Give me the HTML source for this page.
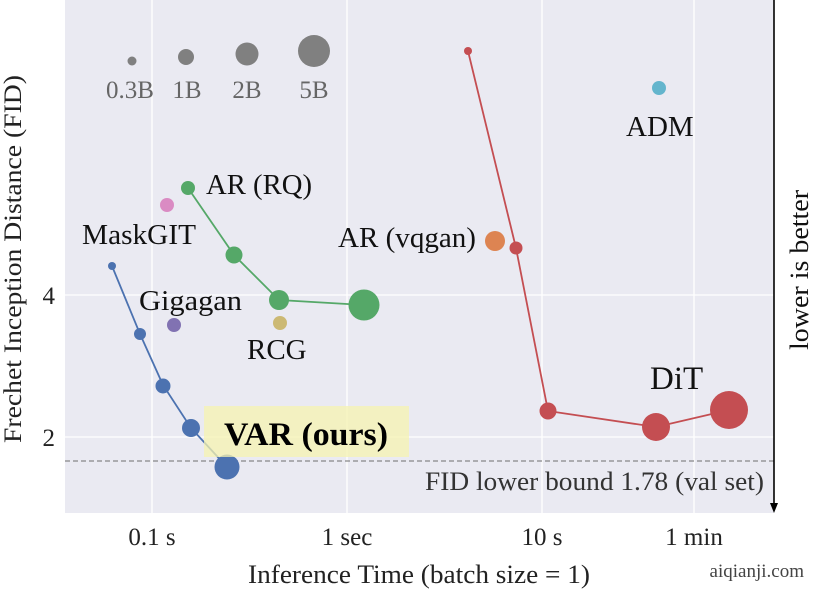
<!DOCTYPE html>
<html><head><meta charset="utf-8"><style>
html,body{margin:0;padding:0;background:#fff;}
svg{display:block;}
text{font-family:"Liberation Serif",serif;}
</style></head><body>
<svg width="814" height="590" viewBox="0 0 814 590" xmlns="http://www.w3.org/2000/svg">
<rect x="65" y="0" width="709" height="513" fill="#eaeaf2"/>
<g stroke="#fff" stroke-width="1.3">
<line x1="152" y1="0" x2="152" y2="513"/>
<line x1="347" y1="0" x2="347" y2="513"/>
<line x1="542" y1="0" x2="542" y2="513"/>
<line x1="694" y1="0" x2="694" y2="513"/>
<line x1="65" y1="295" x2="774" y2="295"/>
<line x1="65" y1="437" x2="774" y2="437"/>
</g>
<line x1="65" y1="461" x2="774" y2="461" stroke="#888" stroke-width="1.3" stroke-dasharray="5,3"/>
<g fill="#808080">
<circle cx="132" cy="61" r="4.5"/><circle cx="186" cy="57" r="8"/><circle cx="247" cy="54" r="11.5"/><circle cx="314" cy="51" r="16"/>
</g>
<g font-size="25" fill="#666" text-anchor="middle">
<text x="130" y="98">0.3B</text><text x="187" y="98">1B</text><text x="247" y="98">2B</text><text x="314" y="98">5B</text>
</g>
<polyline points="468,51 516,248 548,411 656,427 729,410" fill="none" stroke="#c44e52" stroke-width="1.8"/>
<g fill="#c44e52">
<circle cx="468" cy="51" r="4"/><circle cx="516" cy="248" r="6.5"/><circle cx="548" cy="411" r="8.5"/><circle cx="656" cy="427" r="14"/><circle cx="729" cy="410" r="19"/>
</g>
<circle cx="659" cy="88" r="7" fill="#64b5cd"/>
<circle cx="495" cy="241" r="10" fill="#dd8452"/>
<polyline points="188,188 234,255 279,300 364,305" fill="none" stroke="#55a868" stroke-width="1.8"/>
<g fill="#55a868">
<circle cx="188" cy="188" r="7"/><circle cx="234" cy="255" r="8.5"/><circle cx="279" cy="300" r="10"/><circle cx="364" cy="305" r="15.5"/>
</g>
<circle cx="167" cy="205" r="7" fill="#da8bc3"/>
<circle cx="174" cy="325" r="7" fill="#8172b2"/>
<circle cx="280" cy="323" r="7" fill="#ccb974"/>
<polyline points="112,266 140,334 163,385 191,428 227,467" fill="none" stroke="#4c72b0" stroke-width="1.8"/>
<g fill="#4c72b0">
<circle cx="112" cy="266" r="4"/><circle cx="140" cy="334" r="6"/><circle cx="163" cy="386" r="7.5"/><circle cx="191" cy="428" r="9"/><circle cx="227" cy="467" r="12.5"/>
</g>
<rect x="204" y="406" width="205" height="51" fill="#f5f3b0" opacity="0.75"/>
<text x="306" y="445" font-size="33" font-weight="bold" text-anchor="middle" fill="#000" textLength="164" lengthAdjust="spacingAndGlyphs">VAR (ours)</text>
<g font-size="29" fill="#111">
<text x="206" y="194" textLength="106" lengthAdjust="spacingAndGlyphs">AR (RQ)</text>
<text x="82" y="244" textLength="114" lengthAdjust="spacingAndGlyphs">MaskGIT</text>
<text x="139" y="310" textLength="103" lengthAdjust="spacingAndGlyphs">Gigagan</text>
<text x="247" y="359">RCG</text>
<text x="338" y="247" textLength="138" lengthAdjust="spacingAndGlyphs">AR (vqgan)</text>
<text x="626" y="136">ADM</text>
<text x="650" y="389" font-size="33">DiT</text>
</g>
<text x="425" y="490" font-size="26" fill="#333" textLength="339" lengthAdjust="spacingAndGlyphs">FID lower bound 1.78 (val set)</text>
<line x1="774" y1="0" x2="774" y2="506" stroke="#000" stroke-width="1.6"/>
<polygon points="770,503 778,503 774,513" fill="#000"/>
<text transform="translate(808,270) rotate(-90)" font-size="26" text-anchor="middle" fill="#111" textLength="160" lengthAdjust="spacingAndGlyphs">lower is better</text>
<g font-size="25" fill="#222" text-anchor="middle">
<text x="152" y="545">0.1 s</text><text x="347" y="545">1 sec</text><text x="542" y="545">10 s</text><text x="694" y="545">1 min</text>
</g>
<g font-size="25" fill="#222" text-anchor="end">
<text x="55" y="304">4</text><text x="55" y="446">2</text>
</g>
<text x="419" y="583" font-size="26" fill="#222" text-anchor="middle" textLength="342" lengthAdjust="spacingAndGlyphs">Inference Time (batch size = 1)</text>
<text transform="translate(21,259) rotate(-90)" font-size="25" fill="#222" text-anchor="middle" textLength="368" lengthAdjust="spacingAndGlyphs">Frechet Inception Distance (FID)</text>
<text x="804" y="577" font-size="19" fill="#444" text-anchor="end" font-family="Liberation Sans,sans-serif">aiqianji.com</text>
</svg>
</body></html>
